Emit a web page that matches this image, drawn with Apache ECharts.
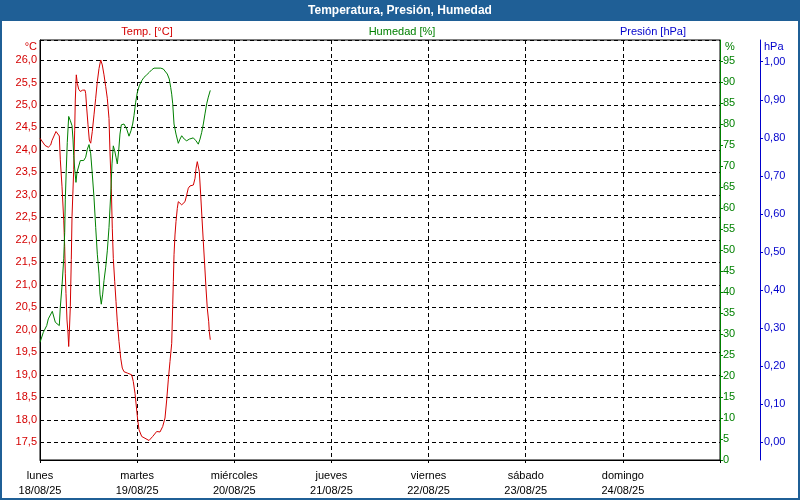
<!DOCTYPE html>
<html>
<head>
<meta charset="utf-8">
<script src="https://cdn.jsdelivr.net/npm/echarts@6/dist/echarts.min.js"></script>
<style>html,body{margin:0;padding:0;background:#fff}#c{width:800px;height:500px}</style>
</head>
<body>
<div id="c"></div>
<script>
// ---- data ----
const dayNames = ['lunes', 'martes', 'miércoles', 'jueves', 'viernes', 'sábado', 'domingo'];
const dayDates = ['18/08/25', '19/08/25', '20/08/25', '21/08/25', '22/08/25', '23/08/25', '24/08/25'];

// hours since 18/08/25 00:00
const tempHours = [0.00,1.24,2.05,2.64,2.96,3.95,4.77,5.02,5.44,5.86,6.10,6.25,6.42,6.67,6.92,7.09,7.24,7.49,7.73,7.91,8.33,8.57,8.72,8.97,9.22,9.56,9.96,10.55,11.12,11.29,11.54,11.86,12.18,12.53,12.92,13.34,13.76,14.16,14.58,15.00,15.39,15.81,16.23,16.63,17.05,17.29,17.62,17.86,18.11,18.46,18.78,19.10,19.52,19.94,20.33,20.75,21.57,22.06,22.66,23.05,23.47,23.89,24.14,24.46,25.13,25.94,26.93,27.84,28.83,29.65,30.31,30.88,31.30,31.70,32.12,32.54,32.79,32.94,33.11,33.35,33.60,33.92,34.17,34.59,35.01,35.40,35.82,36.24,36.64,37.06,37.48,37.89,38.30,38.55,38.86,39.11,39.36,39.70,40.02,40.35,40.69,41.01,41.33,41.68,41.83,42.07];
const tempValues = [24.26,24.10,24.06,24.11,24.21,24.41,24.31,23.78,23.18,22.44,21.85,21.26,20.81,20.22,19.93,19.63,19.93,20.52,21.56,22.52,23.56,24.44,25.11,25.67,25.48,25.35,25.30,25.33,25.33,25.25,24.93,24.56,24.22,24.15,24.41,24.78,25.15,25.52,25.81,26.00,25.89,25.67,25.41,25.15,24.70,23.96,23.15,22.26,21.59,21.07,20.63,20.18,19.74,19.37,19.15,19.07,19.04,19.06,19.00,18.85,18.59,18.22,18.00,17.78,17.63,17.59,17.54,17.63,17.74,17.73,17.85,18.04,18.44,18.89,19.30,19.70,20.56,21.07,21.67,22.11,22.41,22.70,22.85,22.83,22.78,22.81,22.85,23.00,23.15,23.20,23.20,23.22,23.37,23.59,23.74,23.78,23.52,23.00,22.48,21.96,21.44,20.93,20.48,20.18,19.96,19.78];

const humHours = [0.00,0.82,1.66,2.05,3.04,3.78,4.77,5.02,5.44,5.86,6.10,6.25,6.50,6.74,7.09,7.49,7.91,8.15,8.33,8.57,8.89,9.14,9.51,9.96,10.80,11.29,11.69,12.11,12.53,12.92,13.34,13.76,14.16,14.58,14.82,15.14,15.49,15.81,16.23,16.63,17.05,17.47,17.79,18.11,18.46,18.78,19.10,19.44,19.76,20.09,20.75,21.00,21.42,21.99,22.48,22.90,23.22,23.64,24.04,24.53,25.13,25.69,26.36,27.00,27.60,28.17,28.91,29.82,30.46,30.88,31.45,31.94,32.29,32.54,32.79,33.11,33.60,34.17,34.59,35.01,35.65,36.24,36.89,37.87,38.54,39.11,39.53,39.95,40.35,40.76,41.18,41.58,42.07];
const humValues = [28.0,30.4,32.0,33.6,35.4,32.8,32.0,36.4,41.5,47.9,54.2,62.1,69.3,75.6,81.8,80.8,79.6,76.4,72.5,69.3,66.1,68.5,68.7,71.3,71.3,72.1,74.0,75.1,72.9,68.1,62.5,55.4,49.0,44.3,39.5,37.1,39.5,42.7,45.9,49.8,55.4,63.3,70.5,74.8,73.6,72.1,70.5,73.6,77.6,79.8,80.0,79.8,78.8,77.1,78.4,80.0,82.0,85.2,87.5,89.1,90.3,91.1,91.7,92.3,92.9,93.3,93.3,93.3,93.1,92.7,91.9,90.7,88.7,87.1,84.8,80.0,77.6,75.4,76.4,77.2,76.4,76.0,76.4,76.7,76.0,75.2,76.4,78.0,80.0,82.4,84.8,86.4,88.0];

const presHours = [];
const presValues = [];

// ---- chart ----
const RED = '#d40000', GREEN = '#008000', BLUE = '#0000cc', BAR = '#1f5f96';
const FONT = 'Liberation Sans';
const comma = (v, d) => v.toFixed(d).replace('.', ',');

const chart = echarts.init(document.getElementById('c'), null, { renderer: 'canvas' });
chart.setOption({
  animation: false,
  backgroundColor: '#ffffff',
  textStyle: { fontFamily: FONT },
  grid: { left: 40, right: 80, top: 40, bottom: 40, show: true, borderColor: '#000', borderWidth: 1, backgroundColor: '#fff' },
  graphic: [
    { type: 'rect', shape: { x: 0, y: 0, width: 800, height: 21 }, style: { fill: BAR }, z: 10 },
    { type: 'rect', shape: { x: 1, y: 1, width: 798, height: 498 }, style: { fill: null, stroke: BAR, lineWidth: 2 }, z: 10 },
    { type: 'text', x: 400, y: 11, z: 11, style: { text: 'Temperatura, Presión, Humedad', fill: '#fff', font: 'bold 12px ' + FONT, textAlign: 'center', textVerticalAlign: 'middle' } },
    { type: 'text', x: 147, y: 32, z: 11, style: { text: 'Temp. [°C]', fill: RED, font: '11px ' + FONT, textAlign: 'center', textVerticalAlign: 'middle' } },
    { type: 'text', x: 402, y: 32, z: 11, style: { text: 'Humedad [%]', fill: GREEN, font: '11px ' + FONT, textAlign: 'center', textVerticalAlign: 'middle' } },
    { type: 'text', x: 653, y: 32, z: 11, style: { text: 'Presión [hPa]', fill: BLUE, font: '11px ' + FONT, textAlign: 'center', textVerticalAlign: 'middle' } },
    { type: 'text', x: 37, y: 47, z: 11, style: { text: '°C', fill: RED, font: '11px ' + FONT, textAlign: 'right', textVerticalAlign: 'middle' } },
    { type: 'text', x: 725, y: 47, z: 11, style: { text: '%', fill: GREEN, font: '11px ' + FONT, textAlign: 'left', textVerticalAlign: 'middle' } },
    { type: 'text', x: 764, y: 47, z: 11, style: { text: 'hPa', fill: BLUE, font: '11px ' + FONT, textAlign: 'left', textVerticalAlign: 'middle' } }
  ],
  xAxis: {
    type: 'value', min: 0, max: 168, interval: 24,
    axisLine: { show: true, lineStyle: { color: '#000', width: 1 } },
    axisTick: { show: true, length: 3, lineStyle: { color: '#000' } },
    axisLabel: {
      color: '#000', fontSize: 11, fontFamily: FONT, margin: 8, lineHeight: 15,
      formatter: v => { const i = Math.round(v / 24); return i < 7 ? dayNames[i] + '\n' + dayDates[i] : ''; }
    },
    splitLine: { show: true, lineStyle: { color: '#000', type: [4, 3], width: 1 } }
  },
  yAxis: [
    {
      type: 'value', position: 'left', min: 17.1067, max: 26.4444, splitNumber: 19, minInterval: 0.5, maxInterval: 0.5,
      axisLine: { show: true, lineStyle: { color: '#000' } },
      axisTick: { show: false },
      axisLabel: { color: RED, fontSize: 11, fontFamily: FONT, margin: 3, padding: [3, 0, 0, 0], showMinLabel: false, showMaxLabel: false, formatter: v => comma(v, 1) },
      splitLine: { show: true, lineStyle: { color: '#000', type: [4, 3], width: 1 } }
    },
    {
      type: 'value', position: 'right', offset: 0, min: 0, max: 100, interval: 5,
      axisLine: { show: true, lineStyle: { color: GREEN } },
      axisTick: { show: true, length: 3, lineStyle: { color: GREEN } },
      axisLabel: { color: GREEN, fontSize: 11, fontFamily: FONT, margin: 3, padding: [4, 0, 0, 0], showMaxLabel: false },
      splitLine: { show: false }
    },
    {
      type: 'value', position: 'right', offset: 40, min: -0.0465, max: 1.057, splitNumber: 11, minInterval: 0.1, maxInterval: 0.1,
      axisLine: { show: true, lineStyle: { color: BLUE } },
      axisTick: { show: true, length: 3, lineStyle: { color: BLUE } },
      axisLabel: { color: BLUE, fontSize: 11, fontFamily: FONT, margin: 4, padding: [3, 0, 0, 0], showMinLabel: false, showMaxLabel: false, formatter: v => comma(v, 2) },
      splitLine: { show: false }
    }
  ],
  series: [
    { name: 'Temp. [°C]', type: 'line', yAxisIndex: 0, showSymbol: false, symbol: 'none', lineStyle: { color: RED, width: 1 }, itemStyle: { color: RED },
      data: tempHours.map((h, i) => [h, tempValues[i]]) },
    { name: 'Humedad [%]', type: 'line', yAxisIndex: 1, showSymbol: false, symbol: 'none', lineStyle: { color: GREEN, width: 1 }, itemStyle: { color: GREEN },
      data: humHours.map((h, i) => [h, humValues[i]]) },
    { name: 'Presión [hPa]', type: 'line', yAxisIndex: 2, showSymbol: false, symbol: 'none', lineStyle: { color: BLUE, width: 1 },
      data: presHours.map((h, i) => [h, presValues[i]]) }
  ]
});
</script>
</body>
</html>
